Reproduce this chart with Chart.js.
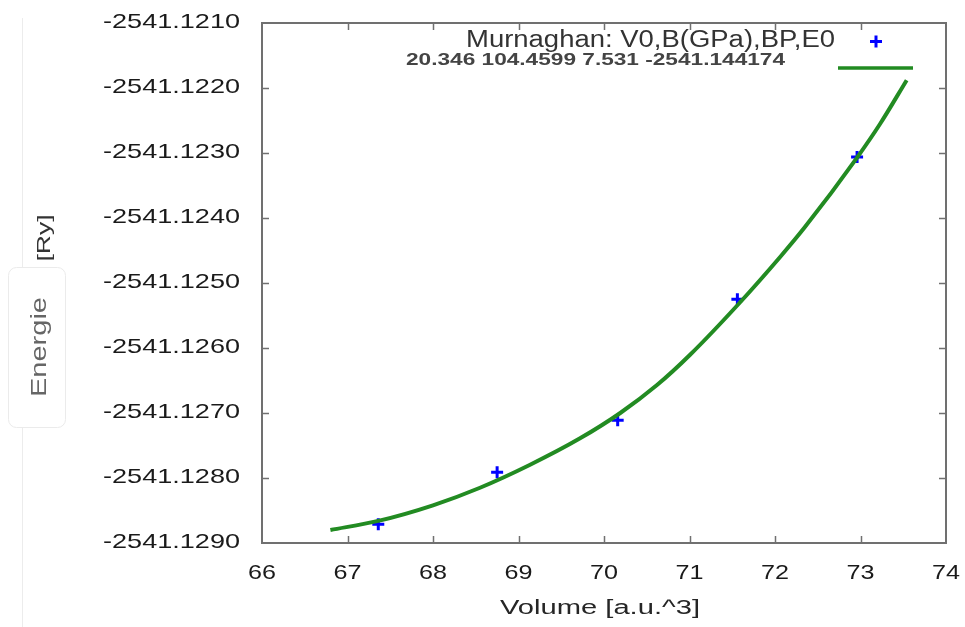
<!DOCTYPE html>
<html>
<head>
<meta charset="utf-8">
<title>Murnaghan fit</title>
<script src="https://cdn.jsdelivr.net/npm/chart.js@4.4.1/dist/chart.umd.min.js"></script>
<style>
    html, body { margin: 0; padding: 0; background: #fff; }
    #wrap { width: 965px; height: 627px; position: relative; }
</style>
</head>
<body>
<div id="wrap"><canvas id="eosChart"></canvas></div>
<script>
// Calculated points (Volume, Energy)
const volPoints = [67.36, 68.75, 70.16, 71.56, 72.96];
const energyPoints = [-2541.12871, -2541.12791, -2541.12711, -2541.12525, -2541.12306];

// Murnaghan fit curve
const fitVolumes = [66.80, 67.36, 68.00, 68.55, 69.13, 69.72, 70.19, 70.62, 71.01, 71.59, 72.06, 72.35, 72.96, 73.23, 73.54];
const fitEnergies = [-2541.12880, -2541.12866, -2541.12842, -2541.12815, -2541.12780, -2541.12739, -2541.12700,
    -2541.12657, -2541.12610, -2541.12530, -2541.12460, -2541.12414, -2541.12307, -2541.12255, -2541.12188];

// Tick labels
const xTicks = [66, 67, 68, 69, 70, 71, 72, 73, 74];
const yTicks = [-2541.1210, -2541.1220, -2541.1230, -2541.1240, -2541.1250, -2541.1260, -2541.1270, -2541.1280, -2541.1290];

const legendTitle = 'Murnaghan: V0,B(GPa),BP,E0';
const legendParams = '20.346 104.4599 7.531 -2541.144174';
const xTitle = 'Volume [a.u.^3]';
const yTitleMain = 'Energie';
const yTitleUnit = '[Ry]';

const FONT = '"Liberation Sans", Arial, sans-serif';

/**
 * Draw text stretched horizontally to a target width
 */
function fitText(ctx, text, x, y, size, width, align, color, weight) {
    ctx.save();
    ctx.font = (weight || 'normal') + ' ' + size + 'px ' + FONT;
    const w = ctx.measureText(text).width;
    const sx = width / w;
    ctx.translate(x, y);
    ctx.scale(sx, 1);
    ctx.fillStyle = color;
    ctx.textAlign = align;
    ctx.textBaseline = 'middle';
    ctx.fillText(text, 0, 0);
    ctx.restore();
}

const gnuplotLook = {
    id: 'gnuplotLook',
    beforeDraw(chart) {
        const ctx = chart.ctx;
        ctx.save();
        ctx.fillStyle = '#fff';
        ctx.fillRect(0, 0, chart.width, chart.height);

        // faint line and box on the left
        ctx.strokeStyle = '#ececec';
        ctx.lineWidth = 1;
        ctx.beginPath();
        ctx.moveTo(22.5, 18);
        ctx.lineTo(22.5, 627);
        ctx.stroke();

        ctx.fillStyle = '#fff';
        ctx.strokeStyle = '#ebebeb';
        ctx.beginPath();
        ctx.roundRect(8.5, 267.5, 57, 160, 8);
        ctx.fill();
        ctx.stroke();
        ctx.restore();
    },
    afterDraw(chart) {
        const ctx = chart.ctx;
        const area = chart.chartArea;
        const xs = chart.scales.x;
        const ys = chart.scales.y;

        // frame
        ctx.save();
        ctx.strokeStyle = '#707070';
        ctx.lineWidth = 2;
        ctx.strokeRect(area.left, area.top, area.right - area.left, area.bottom - area.top);

        // inward ticks
        ctx.lineWidth = 1.5;
        ctx.beginPath();
        xTicks.slice(1, -1).forEach(v => {
            const px = Math.round(xs.getPixelForValue(v)) + 0.5;
            ctx.moveTo(px, area.bottom);
            ctx.lineTo(px, area.bottom - 7);
            ctx.moveTo(px, area.top);
            ctx.lineTo(px, area.top + 7);
        });
        yTicks.slice(1, -1).forEach(v => {
            const py = Math.round(ys.getPixelForValue(v)) + 0.5;
            ctx.moveTo(area.left, py);
            ctx.lineTo(area.left + 7, py);
            ctx.moveTo(area.right, py);
            ctx.lineTo(area.right - 7, py);
        });
        ctx.stroke();
        ctx.restore();

        // tick labels
        yTicks.forEach(v => {
            fitText(ctx, v.toFixed(4), 240, ys.getPixelForValue(v) - 1, 21, 137, 'right', '#1a1a1a');
        });
        xTicks.forEach(v => {
            fitText(ctx, String(v), xs.getPixelForValue(v), 573, 21, 28, 'center', '#1a1a1a');
        });

        // axis titles
        fitText(ctx, xTitle, 600, 608, 20, 200, 'center', '#262626');

        ctx.save();
        ctx.translate(40, 347);
        ctx.rotate(-Math.PI / 2);
        fitText(ctx, yTitleMain, 0, 0, 22, 100, 'center', '#666');
        ctx.restore();
        ctx.save();
        ctx.translate(45, 238);
        ctx.rotate(-Math.PI / 2);
        fitText(ctx, yTitleUnit, 0, 0, 19, 47, 'center', '#333');
        ctx.restore();

        // legend
        fitText(ctx, legendTitle, 466, 41, 23, 369, 'left', '#333');
        fitText(ctx, legendParams, 406, 61, 16, 379, 'left', '#444', 'bold');

        ctx.save();
        ctx.strokeStyle = '#0000ff';
        ctx.lineWidth = 3;
        ctx.beginPath();
        ctx.moveTo(870, 41.5);
        ctx.lineTo(882, 41.5);
        ctx.moveTo(876, 35.5);
        ctx.lineTo(876, 47.5);
        ctx.stroke();
        ctx.strokeStyle = '#228B22';
        ctx.lineWidth = 3.5;
        ctx.beginPath();
        ctx.moveTo(838, 68);
        ctx.lineTo(913, 68);
        ctx.stroke();
        ctx.restore();
    }
};

document.addEventListener('DOMContentLoaded', function() {
    const ctx = document.getElementById('eosChart');

    new Chart(ctx, {
        type: 'scatter',
        data: {
            datasets: [{
                label: 'Murnaghan fit',
                data: fitVolumes.map((v, i) => ({ x: v, y: fitEnergies[i] })),
                showLine: true,
                borderColor: '#228B22',
                borderWidth: 4,
                pointRadius: 0,
                cubicInterpolationMode: 'monotone',
                fill: false,
                order: 0
            }, {
                label: 'E(V)',
                data: volPoints.map((v, i) => ({ x: v, y: energyPoints[i] })),
                pointStyle: 'cross',
                pointRadius: 6,
                borderWidth: 3,
                borderColor: '#0000ff',
                backgroundColor: '#0000ff',
                order: 1
            }]
        },
        options: {
            responsive: true,
            maintainAspectRatio: false,
            animation: false,
            layout: {
                padding: { left: 262, top: 23, right: 19, bottom: 84 }
            },
            plugins: {
                legend: { display: false },
                tooltip: { enabled: false }
            },
            scales: {
                x: {
                    type: 'linear',
                    min: 66,
                    max: 74,
                    grid: { display: false },
                    border: { display: false },
                    ticks: { display: false },
                    afterBuildTicks: s => { s.ticks = xTicks.map(v => ({ value: v })); },
                    afterFit: s => { s.height = 0; }
                },
                y: {
                    type: 'linear',
                    min: -2541.129,
                    max: -2541.121,
                    grid: { display: false },
                    border: { display: false },
                    ticks: { display: false },
                    afterBuildTicks: s => { s.ticks = yTicks.map(v => ({ value: v })); },
                    afterFit: s => { s.width = 0; }
                }
            }
        },
        plugins: [gnuplotLook]
    });
});
</script>
</body>
</html>
